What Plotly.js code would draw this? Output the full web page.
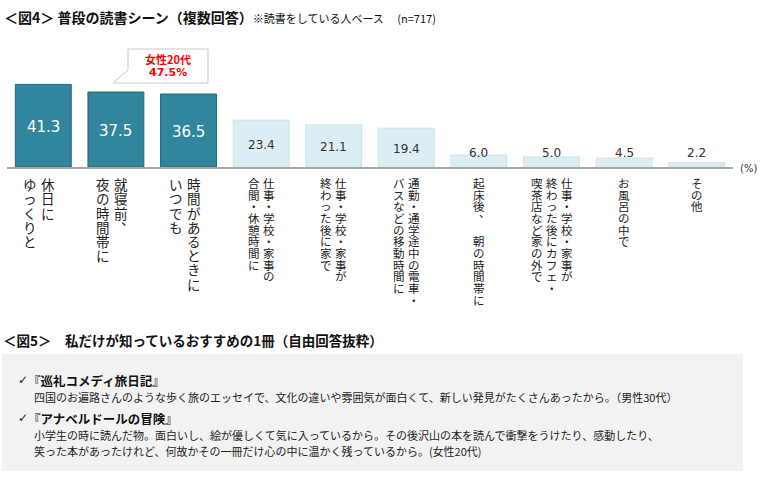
<!DOCTYPE html>
<html>
<head>
<meta charset="utf-8">
<script src="https://cdn.plot.ly/plotly-3.0.1.min.js"></script>
<style>
html,body{margin:0;padding:0;background:#fff;}
#chart{width:760px;height:478px;}
</style>
</head>
<body>
<div id="chart"></div>
<script>
// ---- data ----
const categories = [
  '休日に\nゆっくりと',
  '就寝前、\n夜の時間帯に',
  '時間があるときに\nいつでも',
  '仕事・学校・家事の\n合間・休憩時間に',
  '仕事・学校・家事が\n終わった後に家で',
  '通勤・通学途中の電車・\nバスなどの移動時間に',
  '起床後、　朝の時間帯に',
  '仕事・学校・家事が\n終わった後にカフェ・\n喫茶店など家の外で',
  'お風呂の中で',
  'その他'
];
const values = [41.3, 37.5, 36.5, 23.4, 21.1, 19.4, 6.0, 5.0, 4.5, 2.2];
const highlightCount = 3;
const calloutLabel = '女性20代';
const calloutValue = '47.5%';
const titleMain = '＜図4＞ 普段の読書シーン（複数回答）';
const titleNote = '※読書をしている人ベース　 (n=717)';
const unitLabel = '(%)';
const fig5Heading = '＜図5＞　私だけが知っているおすすめの1冊（自由回答抜粋）';
const book1Title = '『巡礼コメディ旅日記』';
const book1Lines = ['四国のお遍路さんのような歩く旅のエッセイで、文化の違いや雰囲気が面白くて、新しい発見がたくさんあったから。（男性30代）'];
const book2Title = '『アナベルドールの冒険』';
const book2Lines = ['小学生の時に読んだ物。面白いし、絵が優しくて気に入っているから。その後沢山の本を読んで衝撃をうけたり、感動したり、',
                    '笑った本があったけれど、何故かその一冊だけ心の中に温かく残っているから。(女性20代)'];

// ---- layout geometry ----
const L = 7, W = 726, T = 67, H = 100;
const px = x => (x - L) / W;
const py = y => (T + H - y) / H;
const JP = '"Noto Sans CJK JP", "Noto Sans", sans-serif';
const NUM = '"DejaVu Sans", Verdana, sans-serif';

const xKeys = categories.map(c => c.replace(/\n/g, ''));
const DARK = '#31859c', DARK_LINE = '#23687b';
const LIGHT = '#daeef3', LIGHT_LINE = '#c9e4ec';

const trace = {
  type: 'bar',
  x: xKeys,
  y: values,
  marker: {
    color: values.map((v, i) => i < highlightCount ? DARK : LIGHT),
    line: {color: values.map((v, i) => i < highlightCount ? DARK_LINE : LIGHT_LINE), width: 1}
  },
  hoverinfo: 'skip'
};

const ann = [];
// value labels
values.forEach((v, i) => {
  const dark = i < highlightCount;
  ann.push({
    x: xKeys[i], xref: 'x', y: v >= 10 ? v / 2 - 0.5 : 6.9, yref: 'y',
    text: v.toFixed(1), showarrow: false, xanchor: 'center', yanchor: 'middle',
    font: {family: NUM, size: dark ? 15 : 12, color: dark ? '#ffffff' : '#333333'}
  });
});
// vertical category labels
categories.forEach((cat, i) => {
  const cols = cat.split('\n');
  const dark = i < highlightCount;
  const fs = dark ? 13.5 : 11.5, pitch = dark ? 14.2 : 11.7, colGap = dark ? 18 : 15, shift = dark ? -4 : 0;
  cols.forEach((col, j) => {
    const xoff = ((cols.length - 1) / 2 - j) * colGap + shift;
    [...col].forEach((ch, k) => {
      if (ch === '　' || ch === ' ') return;
      let dx = 0, dy = 0;
      if (ch === '、' || ch === '。') { dx = fs * 0.55; dy = fs * 0.55; }
      ann.push({
        x: xKeys[i], xref: 'x', y: py(177 + pitch * (k + 0.5)), yref: 'paper',
        xshift: xoff + dx, yshift: dy, text: ch, showarrow: false,
        xanchor: 'center', yanchor: 'middle',
        font: {family: JP, size: fs, color: '#222222'}
      });
    });
  });
});
// callout texts
ann.push({x: px(168), xref: 'paper', y: py(58.5), yref: 'paper', text: '<b>' + calloutLabel + '</b>',
  showarrow: false, xanchor: 'center', yanchor: 'middle', font: {family: JP, size: 11, color: '#ff0000'}});
ann.push({x: px(168), xref: 'paper', y: py(72), yref: 'paper', text: '<b>' + calloutValue + '</b>',
  showarrow: false, xanchor: 'center', yanchor: 'middle', font: {family: NUM, size: 11, color: '#ff0000'}});
// unit
ann.push({x: px(748), xref: 'paper', y: py(168), yref: 'paper', text: unitLabel,
  showarrow: false, xanchor: 'center', yanchor: 'middle', font: {family: NUM, size: 10, color: '#333333'}});
// title
ann.push({x: px(2), xref: 'paper', y: py(16.5), yref: 'paper',
  text: '<b>' + titleMain + '</b><span style="font-size:11px">' + titleNote + '</span>',
  showarrow: false, xanchor: 'left', yanchor: 'middle', font: {family: JP, size: 14, color: '#111111'}});
// fig5
ann.push({x: px(1), xref: 'paper', y: py(340), yref: 'paper', text: '<b>' + fig5Heading + '</b>',
  showarrow: false, xanchor: 'left', yanchor: 'middle', font: {family: JP, size: 13.5, color: '#111111'}});
function addBook(yTitle, title, lines) {
  ann.push({x: px(16), xref: 'paper', y: py(yTitle), yref: 'paper', text: '✓',
    showarrow: false, xanchor: 'left', yanchor: 'middle', font: {family: '"DejaVu Sans", sans-serif', size: 12, color: '#222222'}});
  ann.push({x: px(26), xref: 'paper', y: py(yTitle), yref: 'paper', text: '<b>' + title + '</b>',
    showarrow: false, xanchor: 'left', yanchor: 'middle', font: {family: JP, size: 12.5, color: '#111111'}});
  lines.forEach((ln, k) => {
    ann.push({x: px(32), xref: 'paper', y: py(yTitle + 16.5 + k * 16.5), yref: 'paper', text: ln,
      showarrow: false, xanchor: 'left', yanchor: 'middle', font: {family: JP, size: 11, color: '#222222'}});
  });
}
addBook(380, book1Title, book1Lines);
addBook(418, book2Title, book2Lines);

const calloutPath = 'M' + px(128) + ',' + py(49) + ' L' + px(208) + ',' + py(49) + ' L' + px(208) + ',' + py(83) +
  ' L' + px(113) + ',' + py(83) + ' L' + px(128) + ',' + py(70) + ' Z';

const shapes = [
  {type: 'rect', xref: 'paper', yref: 'paper', x0: px(2), x1: px(743), y0: py(354), y1: py(471),
   fillcolor: '#f2f2f2', line: {width: 0}, layer: 'below'},
  {type: 'path', xref: 'paper', yref: 'paper', path: calloutPath, fillcolor: '#ffffff',
   line: {color: '#c8c8c8', width: 1}}
];

const layout = {
  width: 760, height: 478,
  margin: {l: L, r: 760 - L - W, t: T, b: 478 - T - H, pad: 0},
  paper_bgcolor: '#ffffff', plot_bgcolor: 'rgba(0,0,0,0)',
  showlegend: false,
  bargap: 0.23,
  xaxis: {type: 'category', range: [-0.5, categories.length - 0.5], showticklabels: false, ticks: '',
    showgrid: false, zeroline: false, showline: true, linecolor: '#a6a6a6', linewidth: 1.5, fixedrange: true},
  yaxis: {range: [0, 50], visible: false, fixedrange: true},
  annotations: ann,
  shapes: shapes
};

Plotly.newPlot('chart', [trace], layout, {displayModeBar: false, staticPlot: true});
</script>
</body>
</html>
